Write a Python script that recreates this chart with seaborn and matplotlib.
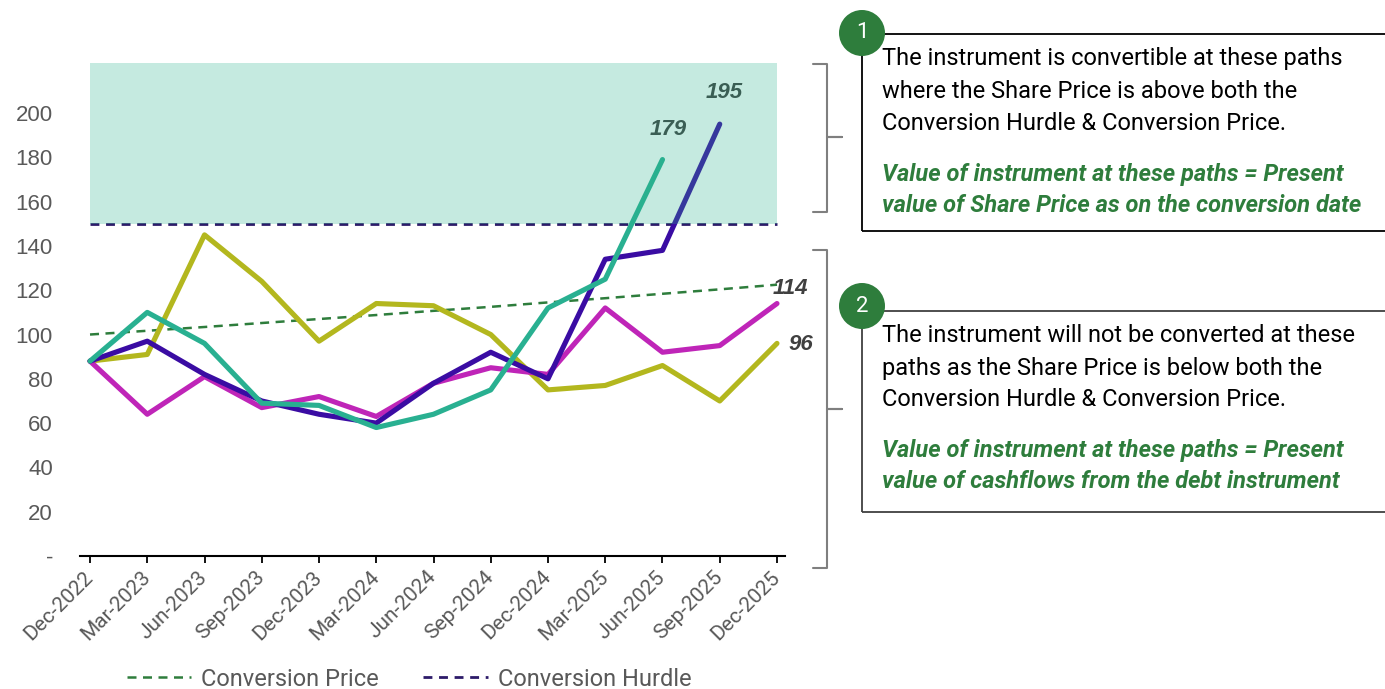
import numpy as np
import pandas as pd
import matplotlib.pyplot as plt
import matplotlib.patches as mpatches
import matplotlib.transforms as mtransforms
from matplotlib.lines import Line2D
import seaborn as sns

# -----------------------------
# Data
# -----------------------------
quarters = ["Dec-2022", "Mar-2023", "Jun-2023", "Sep-2023", "Dec-2023", "Mar-2024",
            "Jun-2024", "Sep-2024", "Dec-2024", "Mar-2025", "Jun-2025", "Sep-2025", "Dec-2025"]

path_olive = [88, 91, 145, 124, 97, 114, 113, 100, 75, 77, 86, 70, 96]
path_navy = [88, 97, 82, 70, 64, 60, 78, 92, 80, 134, 138, 195, np.nan]
path_teal = [88, 110, 96, 69, 68, 58, 64, 75, 112, 125, 179, np.nan, np.nan]
path_magenta = [88, 64, 81, 67, 72, 63, 78, 85, 82, 112, 92, 95, 114]

conversion_price = [100.0, 101.7, 103.4, 105.2, 107.0, 108.8, 110.7,
                    112.5, 114.5, 116.4, 118.4, 120.4, 122.5]
conversion_hurdle = [150, 150, 150, 150, 150, 150, 150, 150, 150, 150, 150, 150, 150]

end_labels = [("179", 10, 179), ("195", 11, 195), ("114", 12, 114), ("96", 12, 96)]

y_ticks = [0, 20, 40, 60, 80, 100, 120, 140, 160, 180, 200]
y_ticklabels = ["-", "20", "40", "60", "80", "100", "120", "140", "160", "180", "200"]

box1_text = ("The instrument is convertible at these paths\n"
             "where the Share Price is above both the\n"
             "Conversion Hurdle & Conversion Price.")
box1_note = ("Value of instrument at these paths = Present\n"
             "value of Share Price as on the conversion date")
box2_text = ("The instrument will not be converted at these\n"
             "paths as the Share Price is below both the\n"
             "Conversion Hurdle & Conversion Price.")
box2_note = ("Value of instrument at these paths = Present\n"
             "value of cashflows from the debt instrument")

x = np.arange(len(quarters))

# -----------------------------
# Style
# -----------------------------
sns.set_theme(style="white")
plt.rcParams["font.family"] = ["Roboto", "DejaVu Sans"]

W, H = 1385, 689
fig = plt.figure(figsize=(W / 100, H / 100), dpi=100)
ax = fig.add_axes([80 / W, 1 - 556 / H, 705 / W, 493 / H])

GREEN = "#2e7d3c"
GRAY = "#595959"

# -----------------------------
# Lines
# -----------------------------
sns.lineplot(x=x, y=conversion_price, ax=ax, color=GREEN, linewidth=1.8,
             zorder=2).lines[-1].set_dashes((3.6, 2.6))
sns.lineplot(x=x, y=conversion_hurdle, ax=ax, color="#2d1b69", linewidth=2.0,
             zorder=2).lines[-1].set_dashes((3.2, 2.4))

series = [
    (path_olive, "#b3b71e"),
    (path_magenta, "#bf25b8"),
    (path_navy, "#3a0ca3"),
    (path_teal, "#29b091"),
]
for vals, col in series:
    sns.lineplot(x=x, y=vals, ax=ax, color=col, linewidth=3.7, zorder=3)

# end-of-path labels
offsets = {"179": (4, 22), "195": (3, 23), "114": (10, 11), "96": (17, -1)}
for txt, xi, yv in end_labels:
    ax.annotate(txt, (xi, yv), xytext=offsets[txt], textcoords="offset points",
                ha="center", va="center", fontsize=16, fontweight="bold",
                fontstyle="italic", color="#404040", family="Liberation Sans", zorder=4)

# conversion zone shade, drawn over the lines
ax.fill_between([0, 12], 150, 222.6, color="#2cb28d", alpha=0.27, linewidth=0, zorder=5)

ax.set_xlim(-0.175, 12.14)
ax.set_ylim(0, 222.6)
ax.set_xticks(x)
ax.set_xticklabels(quarters, rotation=45, ha="right", va="center",
                   rotation_mode="anchor", fontsize=15, color=GRAY)
ax.set_yticks(y_ticks)
ax.set_yticklabels(y_ticklabels, fontsize=16, color=GRAY, family="Liberation Sans")
ax.tick_params(axis="y", length=0, pad=19.5)
ax.tick_params(axis="x", length=5, width=1.3, color="black", direction="out",
               bottom=True, pad=8)
for s in ["left", "top", "right"]:
    ax.spines[s].set_visible(False)
ax.spines["bottom"].set_color("black")
ax.spines["bottom"].set_linewidth(1.5)
ax.grid(False)

# -----------------------------
# Legend
# -----------------------------
handles = [Line2D([], [], color=GREEN, lw=1.8, dashes=(3.6, 2.6)),
           Line2D([], [], color="#2d1b69", lw=2.0, dashes=(3.2, 2.4))]
fig.legend(handles, ["Conversion Price", "Conversion Hurdle"], loc="center",
           bbox_to_anchor=(409 / W, 1 - 679 / H), ncol=2, frameon=False,
           fontsize=17, handlelength=2.75, handletextpad=0.4, columnspacing=1.9,
           labelcolor=GRAY)

# -----------------------------
# Brackets, boxes and notes
# -----------------------------
px = mtransforms.IdentityTransform()


def bracket(top, bottom, mid):
    pts = [(813, top), (827, top), (827, mid), (842, mid), (827, mid), (827, bottom), (813, bottom)]
    xs = [p[0] for p in pts]
    ys = [H - p[1] for p in pts]
    fig.add_artist(Line2D(xs, ys, color="#7f7f7f", lw=1.5, transform=px))


bracket(64, 212, 137)
bracket(250, 568, 409)


def note_box(top, bottom, edge, num, cy, text, note, text_y, note_y):
    fig.add_artist(mpatches.Rectangle((862, H - bottom), 600, bottom - top, fill=False,
                                      ec=edge, lw=1.3, transform=px))
    fig.add_artist(mpatches.Circle((862, H - cy), 23, fc=GREEN, ec="none", transform=px))
    fig.text(862 / W, 1 - cy / H, num, color="white", fontsize=16, ha="center", va="center")
    fig.text(882 / W, 1 - text_y / H, text, color="black", fontsize=17, ha="left",
             va="center", linespacing=1.5)
    fig.text(882 / W, 1 - note_y / H, note, color=GREEN, fontsize=17, ha="left",
             va="center", fontstyle="italic", fontweight="bold", linespacing=1.5)


note_box(34, 231, "black", "1", 33, box1_text, box1_note, 91, 190)
note_box(311, 512, "#404040", "2", 306, box2_text, box2_note, 368, 466)

plt.savefig("out.png", dpi=100)
plt.close()
